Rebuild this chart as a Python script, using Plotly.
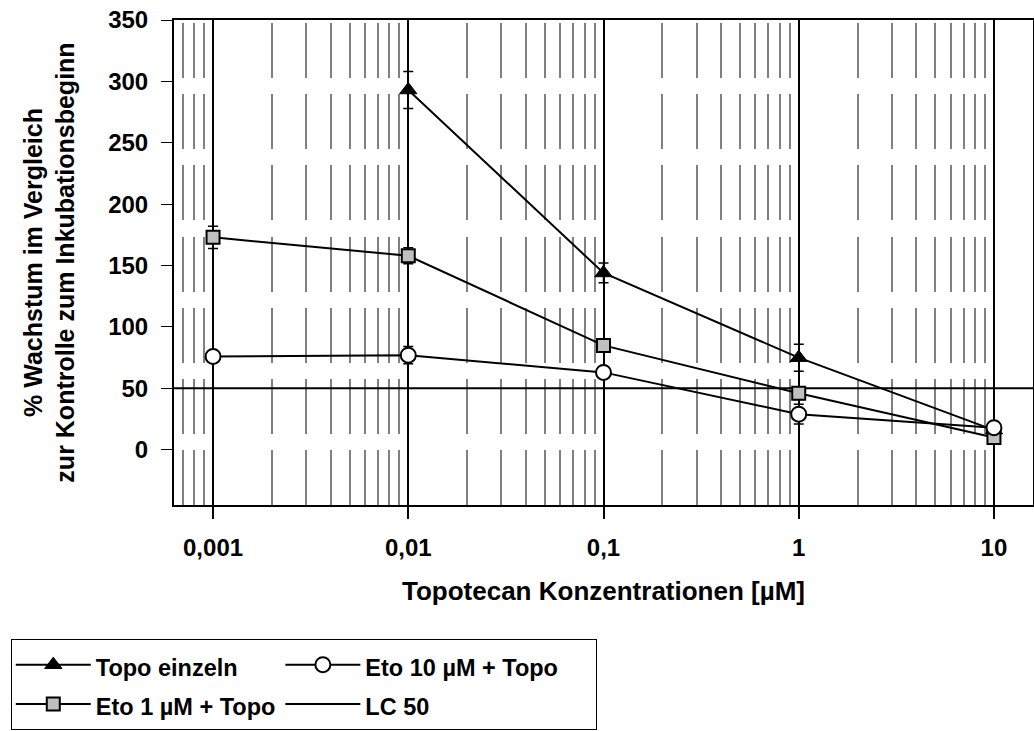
import plotly.graph_objects as go

# ---- data ----
conc_all = [0.001, 0.01, 0.1, 1, 10]
tick_text = ["0,001", "0,01", "0,1", "1", "10"]

topo_x = [0.01, 0.1, 1, 10]
topo_y = [293, 144, 75, 16]
topo_err = [15, 8, 11, 3]

eto10_y = [76, 77, 63, 29, 18]
eto10_err = [3, 7, 3, 8, 3]

eto1_y = [173, 158, 85, 46, 10]
eto1_err = [9, 6.5, 3, 5, 3]

lc50 = 50
x_log_range = [-3.2, 1.2]
y_range = [-45, 350]

FONT = "Liberation Sans, Arial, sans-serif"
LEG_TXT = 23.5

def nm(s, pad=0):
    return '<span style="font-size:%spx">%s%s</span>' % (LEG_TXT, s, "\u00a0" * pad)

fig = go.Figure()

fig.add_trace(go.Scatter(
    x=[10 ** x_log_range[0], 10 ** x_log_range[1]], y=[lc50, lc50],
    mode="lines", line=dict(color="black", width=2),
    name=nm("LC 50"), legendgroup="b", legendrank=4))

fig.add_trace(go.Scatter(
    x=topo_x, y=topo_y, mode="lines+markers", name=nm("Topo einzeln"),
    legendgroup="a", legendrank=1,
    line=dict(color="black", width=2),
    marker=dict(symbol="triangle-up", size=15, color="black",
                line=dict(color="black", width=1)),
    error_y=dict(type="data", array=topo_err, color="black",
                 thickness=1.5, width=5)))

fig.add_trace(go.Scatter(
    x=conc_all, y=eto1_y, mode="lines+markers", name=nm("Eto 1 µM + Topo"),
    legendgroup="a", legendrank=2,
    line=dict(color="black", width=2),
    marker=dict(symbol="square", size=13, color="#c0c0c0",
                line=dict(color="black", width=2)),
    error_y=dict(type="data", array=eto1_err, color="black",
                 thickness=1.5, width=5)))

fig.add_trace(go.Scatter(
    x=conc_all, y=eto10_y, mode="lines+markers", name=nm("Eto 10 µM + Topo", 5),
    legendgroup="b", legendrank=3,
    line=dict(color="black", width=2),
    marker=dict(symbol="circle", size=15, color="white",
                line=dict(color="black", width=2)),
    error_y=dict(type="data", array=eto10_err, color="black",
                 thickness=1.5, width=5)))

fig.update_layout(
    width=1034, height=731,
    margin=dict(l=174, r=1, t=20, b=226, autoexpand=False),
    paper_bgcolor="white", plot_bgcolor="white",
    font=dict(family=FONT, size=18, color="black"),
    showlegend=True,
    legend=dict(
        orientation="h", x=-0.19, y=-0.2763, xanchor="left", yanchor="top",
        bordercolor="black", borderwidth=1, bgcolor="white",
        font=dict(family=FONT, size=28, color="black", weight="bold"),
        itemwidth=75, traceorder="grouped", tracegroupgap=0),
)

fig.update_xaxes(
    type="log", range=x_log_range, automargin=False,
    tickvals=conc_all, ticktext=tick_text,
    tickfont=dict(family=FONT, size=24, color="black", weight="bold"),
    ticks="outside", ticklen=12, tickwidth=2, tickcolor="black",
    ticklabelstandoff=8,
    showline=True, linecolor="black", linewidth=2, mirror=True,
    showgrid=True, gridcolor="black", gridwidth=2,
    minor=dict(dtick="D1", showgrid=True, gridcolor="#808080", gridwidth=1.5,
               griddash="0px,3px,55px,13.2px", ticks=""),
    zeroline=False,
    title=dict(text="Topotecan Konzentrationen [µM]",
               font=dict(family=FONT, size=26, color="black", weight="bold"),
               standoff=22),
)

fig.update_yaxes(
    range=y_range, dtick=50, tick0=0, automargin=False,
    tickfont=dict(family=FONT, size=24, color="black", weight="bold"),
    ticks="outside", ticklen=11, tickwidth=1, tickcolor="black",
    ticklabelstandoff=8,
    showline=True, linecolor="black", linewidth=2, mirror=True,
    showgrid=False, zeroline=False,
    title=dict(text="% Wachstum im Vergleich<br>zur Kontrolle zum Inkubationsbeginn",
               font=dict(family=FONT, size=25, color="black", weight="bold"),
               standoff=26),
)

fig.write_html("out.html", config={"displayModeBar": False},
               post_script="document.body.style.margin='0px';")
